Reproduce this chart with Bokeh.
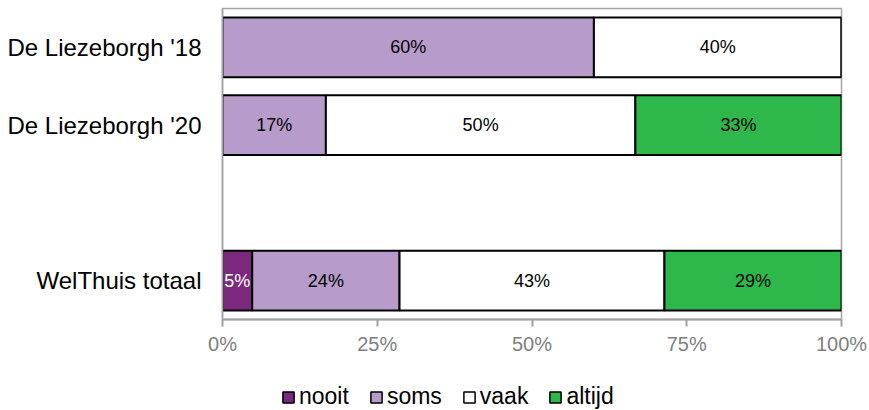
from bokeh.plotting import figure
from bokeh.models import ColumnDataSource, FactorRange, Range1d, FixedTicker, Legend, LegendItem
from bokeh.layouts import column
from bokeh.core.properties import value
from bokeh.embed import file_html
from bokeh.resources import INLINE

# ---- data ----
slots = ["De Liezeborgh '18", "De Liezeborgh '20", " ", "WelThuis totaal"]
categories = ["De Liezeborgh '18", "De Liezeborgh '20", "WelThuis totaal"]
series = ["nooit", "soms", "vaak", "altijd"]
nooit = [0.0, 0.0, 4.8]
soms = [60.0, 16.7, 23.8]
vaak = [40.0, 50.0, 42.8]
altijd = [0.0, 33.3, 28.6]
colors = ["#7b297d", "#b79bca", "#ffffff", "#2eb84b"]
label_colors = ["#ffffff", "#000000", "#000000", "#000000"]
x_ticks = [0, 25, 50, 75, 100]
x_tick_labels = ["0%", "25%", "50%", "75%", "100%"]

FONT = "Liberation Sans"
NAN = float("nan")

source = ColumnDataSource(dict(cat=categories, nooit=nooit, soms=soms, vaak=vaak, altijd=altijd))

p = figure(
    width=869, height=370,
    y_range=FactorRange(factors=list(reversed(slots)), range_padding=0),
    x_range=Range1d(0, 100),
    output_backend="svg", toolbar_location=None,
    min_border_left=222, min_border_right=28, min_border_top=8, min_border_bottom=51,
)

renderers = p.hbar_stack(series, y="cat", height=0.77, source=source,
                         fill_color=colors, line_color="black", line_width=2)

# segment labels
lx, ly, lt, lc = [], [], [], []
vals = [nooit, soms, vaak, altijd]
for i, cat in enumerate(categories):
    start = 0.0
    for s, arr in enumerate(vals):
        v = arr[i]
        if v > 0:
            lx.append(start + v / 2)
            ly.append(cat)
            lt.append(f"{round(v):d}%")
            lc.append(label_colors[s])
        start += v
p.text(x=lx, y=ly, text=lt, text_color=lc, text_align="center", text_baseline="middle",
       text_font=value(FONT), text_font_size="18px")

# axes
p.xgrid.visible = False
p.ygrid.visible = False
p.outline_line_color = "#a6a6a6"
p.outline_line_width = 1.5

xa = p.xaxis[0]
xa.ticker = FixedTicker(ticks=x_ticks)
xa.major_label_overrides = {t: l for t, l in zip(x_ticks, x_tick_labels)}
xa.major_label_text_font = FONT
xa.major_label_text_font_size = "20px"
xa.major_label_text_color = "#808080"
xa.axis_line_color = "#a0a0a0"
xa.axis_line_width = 2
xa.major_tick_line_color = "#a0a0a0"
xa.major_tick_line_width = 2
xa.major_tick_out = 7
xa.major_tick_in = 0
xa.minor_tick_line_color = None
xa.major_label_standoff = 6

ya = p.yaxis[0]
ya.major_label_text_font = FONT
ya.major_label_text_font_size = "24px"
ya.major_label_text_color = "#000000"
ya.axis_line_color = "#a0a0a0"
ya.axis_line_width = 1.5
ya.major_tick_line_color = None
ya.minor_tick_line_color = None
ya.major_label_standoff = 15

# ---- legend row (separate strip below the chart) ----
lg = figure(width=869, height=40, x_range=Range1d(0, 1), y_range=Range1d(0, 1),
            output_backend="svg", toolbar_location=None,
            min_border_left=0, min_border_right=0, min_border_top=0, min_border_bottom=0)
lg.axis.visible = False
lg.xgrid.visible = False
lg.ygrid.visible = False
lg.outline_line_color = None
# legend keys only (NaN data, nothing drawn in the strip itself)
dummies = [lg.hbar(y=[NAN], right=[NAN], height=1, fill_color=c, line_color="black", line_width=1.5)
           for c in colors]
legend = Legend(
    items=[LegendItem(label=s, renderers=[r]) for s, r in zip(series, dummies)],
    location=(59, 0), orientation="horizontal",
    padding=0, margin=0, spacing=20, label_standoff=4,
    glyph_width=14, glyph_height=14,
    label_text_font=FONT, label_text_font_size="23px", label_text_color="#000000",
    border_line_alpha=0, background_fill_alpha=0,
)
lg.add_layout(legend)

open("out.html", "w").write(file_html(column(p, lg, spacing=0), INLINE))
